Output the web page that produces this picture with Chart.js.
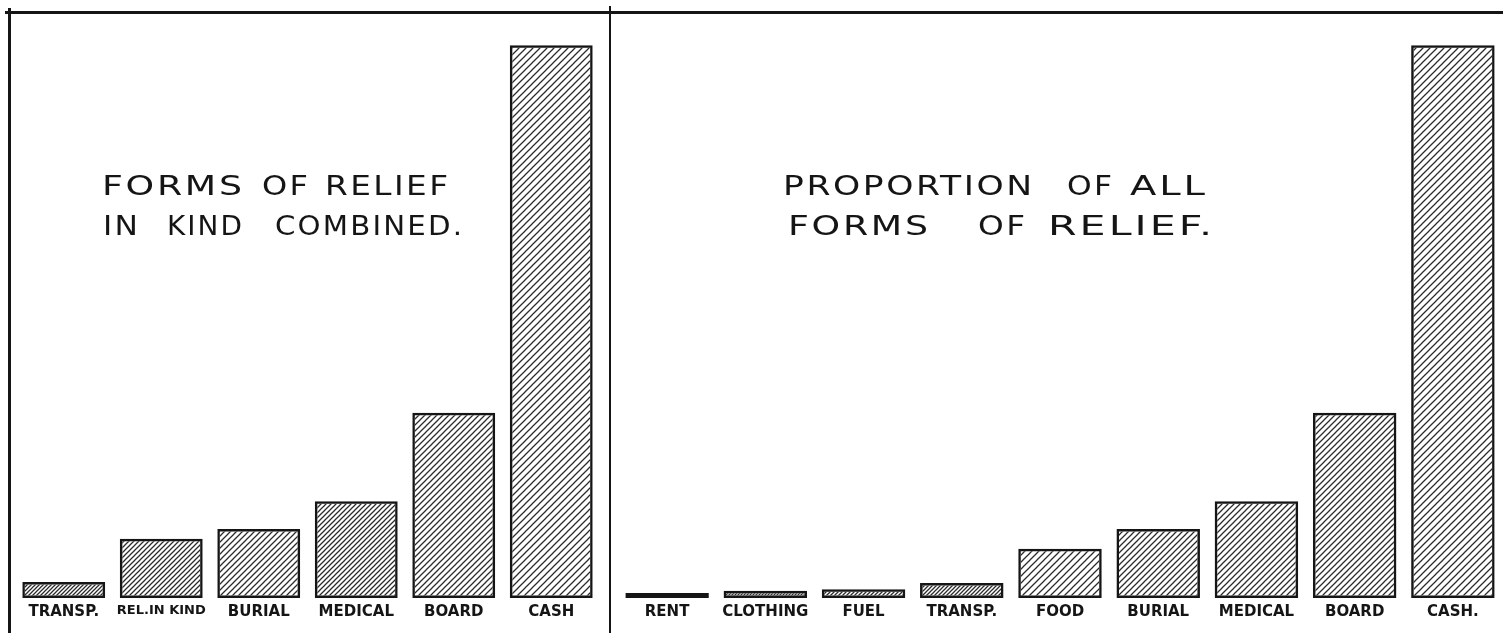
<!DOCTYPE html>
<html>
<head>
<meta charset="utf-8">
<title>Forms of relief</title>
<script src="https://cdn.jsdelivr.net/npm/chart.js@4.4.1/dist/chart.umd.min.js"></script>
<style>
    html, body { margin: 0; padding: 0; background: #fff; }
    #sheet { position: relative; width: 1503px; height: 633px; overflow: hidden; background: #fff; }
    .panel { position: absolute; top: 0; height: 633px; }
    #left { left: 0; width: 610px; }
    #right { left: 610px; width: 893px; }
    .rule { position: absolute; background: #151515; }
    .word {
        position: absolute;
        font-family: "DejaVu Sans", sans-serif;
        font-size: 27px;
        line-height: 27px;
        letter-spacing: 2px;
        color: #151515;
        white-space: pre;
        transform-origin: 0 0;
    }
</style>
</head>
<body>
<div id="sheet">
    <div class="panel" id="left"><canvas id="leftChart" width="610" height="633"></canvas></div>
    <div class="panel" id="right"><canvas id="rightChart" width="893" height="633"></canvas></div>

    <!-- frame -->
    <div class="rule" style="left:5px;top:11px;width:1498px;height:3px"></div>
    <div class="rule" style="left:8px;top:8px;width:3px;height:625px"></div>
    <div class="rule" style="left:609px;top:6px;width:2px;height:627px"></div>
</div>

<script>
"use strict";

/*---------------------------------------------------
  Data (relative amounts, cash = 100)
---------------------------------------------------*/
var leftLabels = ["TRANSP.", "REL.IN KIND", "BURIAL", "MEDICAL", "BOARD", "CASH"];
var leftValues = [2.9, 10.7, 12.5, 17.5, 33.5, 100];

var rightLabels = ["RENT", "CLOTHING", "FUEL", "TRANSP.", "FOOD", "BURIAL", "MEDICAL", "BOARD", "CASH."];
var rightValues = [0.9, 1.3, 1.6, 2.7, 8.9, 12.5, 17.5, 33.5, 100];

// hatch spacing per bar (style only)
var leftHatch = [4, 5, 6, 5, 6, 7];
var rightHatch = [3, 3, 4, 4, 7, 6, 6, 6, 7];

var yMax = 106;
var ink = "#151515";

/*---------------------------------------------------
  Hand-lettered titles: word, left, cap top, width
---------------------------------------------------*/
var titleWords = [
    ["FORMS", 102, 175, 140], ["OF", 262, 175, 46], ["RELIEF", 325, 175, 123],
    ["IN", 103, 215, 35], ["KIND", 167, 215, 75], ["COMBINED.", 275, 215, 187],
    ["PROPORTION", 783, 175, 249], ["OF", 1067, 175, 45], ["ALL", 1130, 175, 75],
    ["FORMS", 788, 215, 140], ["OF", 978, 215, 47], ["RELIEF.", 1048, 215, 164]
];

var sheet = document.getElementById("sheet");
var meter = document.createElement("canvas").getContext("2d");
meter.font = "27px 'DejaVu Sans'";

titleWords.forEach(function (w) {
    var el = document.createElement("div");
    el.className = "word";
    el.textContent = w[0];
    var natural = meter.measureText(w[0]).width + 2 * (w[0].length - 1);
    el.style.transform = "scaleX(" + (w[3] / natural).toFixed(3) + ")";
    el.style.left = w[1] + "px";
    el.style.top = (w[2] - 3) + "px";
    sheet.appendChild(el);
});

/*---------------------------------------------------
  Diagonal hatch pattern
---------------------------------------------------*/
function hatch(step) {
    var c = document.createElement("canvas");
    c.width = step;
    c.height = step;
    var g = c.getContext("2d");
    g.strokeStyle = "#2b2b2b";
    g.lineWidth = 1.25;
    g.beginPath();
    g.moveTo(-1, step + 1); g.lineTo(step + 1, -1);
    g.moveTo(-1, 1); g.lineTo(1, -1);
    g.moveTo(step - 1, step + 1); g.lineTo(step + 1, step - 1);
    g.stroke();
    return g.createPattern(c, "repeat");
}

function reliefChart(id, labels, values, steps, pad) {
    return new Chart(document.getElementById(id), {
        type: "bar",
        data: {
            labels: labels,
            datasets: [{
                data: values,
                backgroundColor: steps.map(hatch),
                borderColor: ink,
                borderWidth: 2.5,
                borderSkipped: false,
                barPercentage: 0.85,
                categoryPercentage: 1
            }]
        },
        options: {
            responsive: false,
            animation: false,
            devicePixelRatio: 1,
            layout: { padding: pad },
            plugins: {
                legend: { display: false },
                tooltip: { enabled: false }
            },
            scales: {
                x: {
                    grid: { display: false, drawTicks: false },
                    border: { display: false },
                    ticks: {
                        color: ink,
                        font: function (c) {
                            // the long label is lettered smaller in the original
                            var small = c.tick && c.tick.label === "REL.IN KIND";
                            return { family: "DejaVu Sans", size: small ? 13 : 15, weight: "bold" };
                        },
                        padding: 5,
                        maxRotation: 0,
                        autoSkip: false
                    },
                    afterFit: function (scale) { scale.height = 35; }
                },
                y: { display: false, min: 0, max: yMax }
            }
        }
    });
}

reliefChart("leftChart", leftLabels, leftValues, leftHatch, { left: 15, right: 10, top: 12, bottom: 0 });
reliefChart("rightChart", rightLabels, rightValues, rightHatch, { left: 8, right: 1, top: 12, bottom: 0 });
</script>
</body>
</html>
